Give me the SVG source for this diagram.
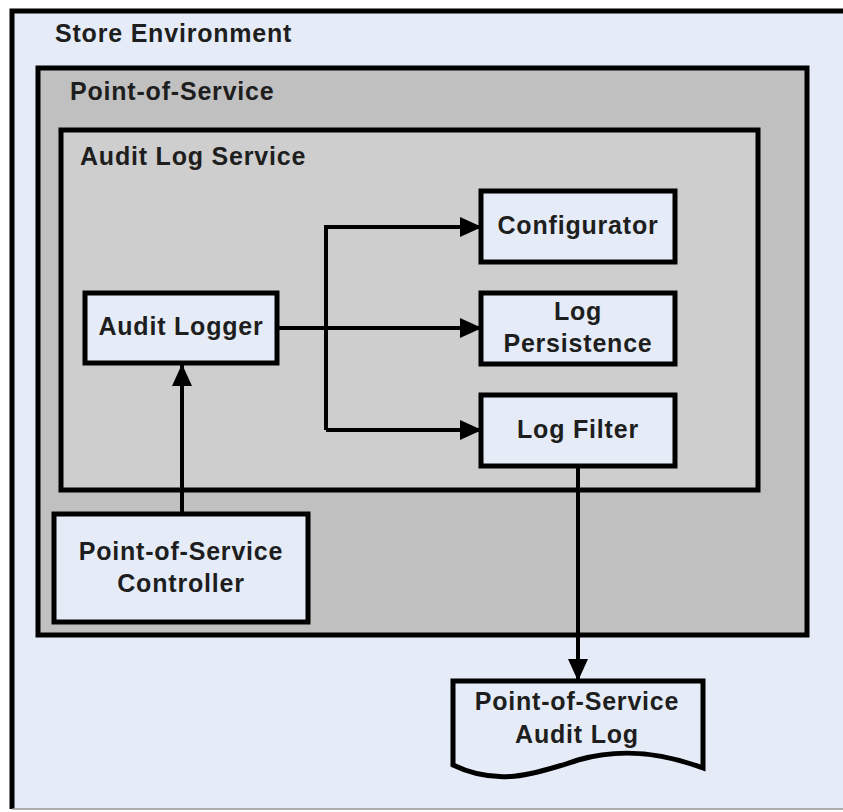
<svg xmlns="http://www.w3.org/2000/svg" width="843" height="812" viewBox="0 0 843 812">
<style>
.t{font-family:"Liberation Sans",Arial,sans-serif;font-weight:bold;font-size:25px;letter-spacing:0.8px;fill:#1e1e1e}
.m{text-anchor:middle}
.box{fill:#E5ECF7;stroke:#000;stroke-width:5}
.c{fill:none;stroke:#000;stroke-width:4}
</style>
<defs>
<marker id="ah" viewBox="0 0 22 20" refX="22" refY="10" markerWidth="22" markerHeight="20" markerUnits="userSpaceOnUse" orient="auto">
<path d="M0,0 L22,10 L0,20 Z" fill="#000"/>
</marker>
</defs>
<rect width="843" height="812" fill="#fff"/>
<g id="store-environment">
<rect x="12" y="11" width="840" height="798" fill="#E5ECF7"/>
<path d="M12,809 L12,11 L845,11" fill="none" stroke="#000" stroke-width="5"/>
<path d="M12,809 L845,809" fill="none" stroke="#999" stroke-width="1.5"/>
<text class="t" x="55" y="42">Store Environment</text>
</g>
<g id="point-of-service">
<rect x="38" y="68" width="769" height="567" fill="#C0C0C0" stroke="#000" stroke-width="5"/>
<text class="t" x="70" y="100">Point-of-Service</text>
</g>
<g id="audit-log-service">
<rect x="61" y="130" width="697" height="360" fill="#CECECE" stroke="#000" stroke-width="5"/>
<text class="t" x="80" y="165">Audit Log Service</text>
</g>
<g id="audit-logger">
<rect class="box" x="85" y="293" width="192" height="70"/>
<text class="t m" x="181" y="335">Audit Logger</text>
</g>
<g id="configurator">
<rect class="box" x="481" y="191" width="194" height="71"/>
<text class="t m" x="578" y="234">Configurator</text>
</g>
<g id="log-persistence">
<rect class="box" x="481" y="293" width="194" height="71"/>
<text class="t m" x="578" y="320">Log</text>
<text class="t m" x="578" y="352">Persistence</text>
</g>
<g id="log-filter">
<rect class="box" x="481" y="395" width="194" height="71"/>
<text class="t m" x="578" y="438">Log Filter</text>
</g>
<g id="pos-controller">
<rect class="box" x="54" y="514" width="254" height="108"/>
<text class="t m" x="181" y="560">Point-of-Service</text>
<text class="t m" x="181" y="592">Controller</text>
</g>
<g id="pos-audit-log">
<path class="box" d="M453,681 L703,681 L703,768 C660,752 620,748 578,760 C540,772 500,788 453,765 Z"/>
<text class="t m" x="577" y="710">Point-of-Service</text>
<text class="t m" x="577" y="743">Audit Log</text>
</g>
<g id="connectors">
<path class="c" d="M277,328 L482,328" marker-end="url(#ah)"/>
<path class="c" d="M326,430 L326,227 L482,227" marker-end="url(#ah)"/>
<path class="c" d="M326,430 L482,430" marker-end="url(#ah)"/>
<path class="c" d="M182,514 L182,364" marker-end="url(#ah)"/>
<path class="c" d="M578,466 L578,681" marker-end="url(#ah)"/>
</g>
</svg>
